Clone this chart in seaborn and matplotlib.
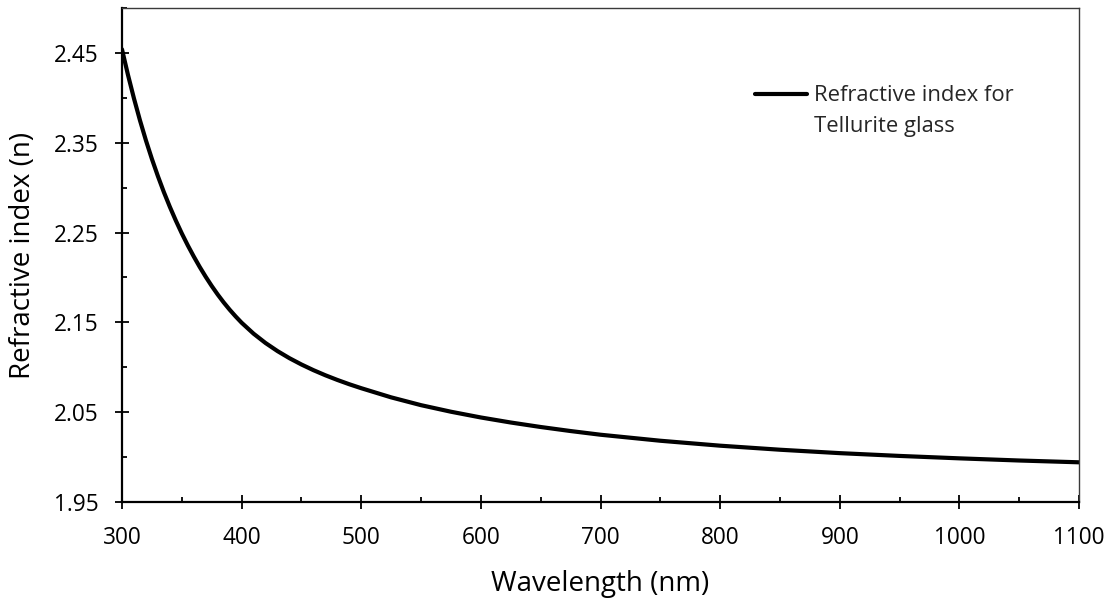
import matplotlib
matplotlib.use("Agg")
import matplotlib.pyplot as plt
import seaborn as sns
import numpy as np
import pandas as pd
from matplotlib.ticker import MultipleLocator, FormatStrFormatter

# Data
wavelength_nm = [300, 305, 310, 315, 320, 325, 330, 335, 340, 345, 350, 355,
                 360, 365, 370, 375, 380, 385, 390, 395, 400, 410, 420, 430,
                 440, 450, 460, 470, 480, 490, 500, 525, 550, 575, 600, 625,
                 650, 675, 700, 750, 800, 850, 900, 950, 1000, 1050, 1100]
refractive_index = [2.4540, 2.4255, 2.3993, 2.3750, 2.3526, 2.3319, 2.3128,
                    2.2950, 2.2786, 2.2633, 2.2490, 2.2357, 2.2233, 2.2116,
                    2.2007, 2.1905, 2.1810, 2.1722, 2.1641, 2.1566, 2.1496,
                    2.1374, 2.1270, 2.1180, 2.1101, 2.1031, 2.0968, 2.0911,
                    2.0859, 2.0811, 2.0767, 2.0665, 2.0578, 2.0505, 2.0441,
                    2.0385, 2.0335, 2.0290, 2.0249, 2.0182, 2.0127, 2.0082,
                    2.0044, 2.0013, 1.9986, 1.9962, 1.9942]
series_label = "Refractive index for\nTellurite glass"
x_label = "Wavelength (nm)"
y_label = "Refractive index (n)"

df = pd.DataFrame({"wavelength": wavelength_nm, "n": refractive_index})

sns.set_theme(style="white")
plt.rcParams["font.family"] = ["Open Sans", "DejaVu Sans"]

fig = plt.figure(figsize=(11.16, 6.0), dpi=100)
ax = fig.add_axes([122 / 1116, 1 - 502 / 600, (1079 - 122) / 1116, (502 - 8) / 600])

sns.lineplot(data=df, x="wavelength", y="n", color="black", linewidth=3.0,
             label=series_label, ax=ax)

ax.set_xlim(300, 1100)
ax.set_ylim(1.95, 2.5)
ax.xaxis.set_major_locator(MultipleLocator(100))
ax.xaxis.set_minor_locator(MultipleLocator(50))
ax.set_yticks(np.arange(1.95, 2.46, 0.1))
ax.yaxis.set_minor_locator(MultipleLocator(0.05))
ax.yaxis.set_major_formatter(FormatStrFormatter("%.2f"))

for side in ["left", "bottom"]:
    ax.spines[side].set_color("black")
    ax.spines[side].set_linewidth(1.6)
for side in ["top", "right"]:
    ax.spines[side].set_color("#3a3a3a")
    ax.spines[side].set_linewidth(1.0)

ax.tick_params(axis="both", which="major", direction="inout", length=10,
               width=1.3, color="black", labelsize=16.3, labelcolor="black")
ax.tick_params(axis="x", which="major", pad=12)
ax.tick_params(axis="y", which="major", pad=12)
ax.tick_params(axis="both", which="minor", direction="in", length=3.8,
               width=1.3, color="black")
ax.tick_params(axis="both", which="both", bottom=True, left=True,
               top=False, right=False)

ax.set_xlabel(x_label, fontsize=20, color="black", labelpad=15)
ax.set_ylabel(y_label, fontsize=20, color="black", labelpad=12)

leg = ax.legend(loc="upper left", bbox_to_anchor=(0.6527, 0.862),
                frameon=False, fontsize=15.8, handlelength=2.35,
                handletextpad=0.3, borderaxespad=0)
for t in leg.get_texts():
    t.set_linespacing(1.62)
# keep the legend key level with the first line of its two-line label
for ln in leg.get_lines():
    yd = np.asarray(ln.get_ydata(), dtype=float)
    ln.set_ydata(yd + 12.5)

fig.savefig("out.png", dpi=100, facecolor="white")
